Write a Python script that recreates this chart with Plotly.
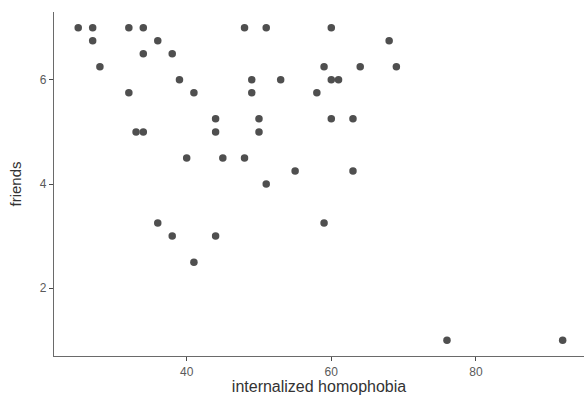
import plotly.graph_objects as go

# internalized homophobia score vs. number of friends
homophobia = [25, 27, 27, 28, 32, 34, 36, 34, 38, 39, 41, 32, 33, 34, 40,
              48, 51, 60, 68, 49, 53, 59, 64, 69, 60, 61, 49, 58, 44, 50,
              60, 63, 44, 50, 45, 48, 55, 63, 51, 36, 38, 41, 44, 59, 76, 92]
friends = [7, 7, 6.75, 6.25, 7, 7, 6.75, 6.5, 6.5, 6, 5.75, 5.75, 5, 5, 4.5,
           7, 7, 7, 6.75, 6, 6, 6.25, 6.25, 6.25, 6, 6, 5.75, 5.75, 5.25, 5.25,
           5.25, 5.25, 5, 5, 4.5, 4.5, 4.25, 4.25, 4, 3.25, 3, 2.5, 3, 3.25, 1, 1]

x_ticks = [40, 60, 80]
y_ticks = [2, 4, 6]

fig = go.Figure(
    go.Scatter(
        x=homophobia,
        y=friends,
        mode="markers",
        marker=dict(size=7.5, color="#4f4f4f", line=dict(width=0)),
        hoverinfo="x+y",
    )
)

axis_common = dict(
    showgrid=False,
    zeroline=False,
    showline=True,
    linecolor="#6a6a6a",
    linewidth=1.2,
    ticks="outside",
    ticklen=4,
    tickwidth=1.2,
    tickcolor="#4a4a4a",
    tickfont=dict(family="Liberation Sans, Arial, sans-serif", size=12, color="#5a5a5a"),
)

fig.update_layout(
    width=584,
    height=396,
    margin=dict(l=54, r=0, t=12, b=40),
    plot_bgcolor="white",
    paper_bgcolor="white",
    showlegend=False,
    xaxis=dict(
        range=[21.65, 94.95],
        tickvals=x_ticks,
        ticklabelstandoff=0,
        title=dict(text="internalized homophobia",
                   font=dict(family="Liberation Sans, Arial, sans-serif", size=16, color="#333333"),
                   standoff=0),
        **axis_common,
    ),
    yaxis=dict(
        range=[0.7, 7.3],
        tickvals=y_ticks,
        title=dict(text="friends",
                   font=dict(family="Liberation Sans, Arial, sans-serif", size=15, color="#333333"),
                   standoff=14),
        **axis_common,
    ),
)

fig.write_html("out.html")
